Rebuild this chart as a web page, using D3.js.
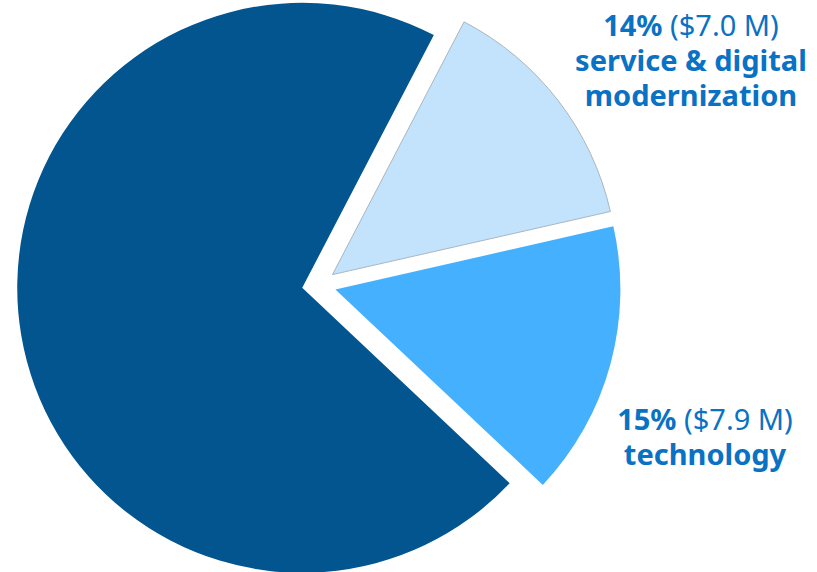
<!DOCTYPE html>
<html>
<head>
<meta charset="utf-8">
<script src="https://cdn.jsdelivr.net/npm/d3@7"></script>
<style>
  body { margin: 0; background: #fff; }
  svg { display: block; font-family: "Noto Sans", sans-serif; }
</style>
</head>
<body>
<svg width="817" height="572"></svg>
<script>
// 各スライスのデータ（百万ドル）
const categories = ['service & digital modernization', 'technology', 'other']
const values = [7.0, 7.9, 35.8]
const percents = ['14%', '15%', '71%']
const amounts = ['($7.0 M)', '($7.9 M)', '']
const colors = ['#c2e3fb', '#45b0fe', '#02558f']

const cx = 319
const cy = 285
const radius = 285
const explode = 17

const svg = d3.select('svg')
const g = svg.append('g').attr('transform', `translate(${cx}, ${cy})`)

// 27度あたりから時計回りに描画
const start = 27.5 * Math.PI / 180
const pie = d3.pie().sort(null).startAngle(start).endAngle(start + 2 * Math.PI)
const arc = d3.arc().innerRadius(0).outerRadius(radius)

const arcs = pie(values)

g.selectAll('path')
  .data(arcs)
  .enter()
  .append('path')
  .attr('d', arc)
  .attr('fill', (d, i) => colors[i])
  .attr('stroke', (d, i) => i === 0 ? '#a9b6c0' : 'none')
  .attr('stroke-width', 1)
  .attr('transform', (d) => {
    // スライスを中心角の方向へ少しずらす
    const mid = (d.startAngle + d.endAngle) / 2
    return `translate(${Math.sin(mid) * explode}, ${-Math.cos(mid) * explode})`
  })

// ラベル（1行ずつ text 要素で配置）
const labelPos = [
  { x: 691, y: 36, lines: ['service & digital', 'modernization'] },
  { x: 705, y: 430, lines: [categories[1]] }
]

labelPos.forEach((p, i) => {
  const first = svg.append('text')
    .attr('x', p.x)
    .attr('y', p.y)
    .attr('text-anchor', 'middle')
    .attr('fill', '#0a72c4')
    .style('font-size', '29px')
  first.append('tspan').attr('font-weight', 'bold').text(percents[i])
  first.append('tspan').attr('font-weight', 'normal').text(' ' + amounts[i])
  p.lines.forEach((line, k) => {
    svg.append('text')
      .attr('x', p.x)
      .attr('y', p.y + 35 * (k + 1))
      .attr('text-anchor', 'middle')
      .attr('fill', '#0a72c4')
      .attr('font-weight', 'bold')
      .style('font-size', '29px')
      .text(line)
  })
})
</script>
</body>
</html>
